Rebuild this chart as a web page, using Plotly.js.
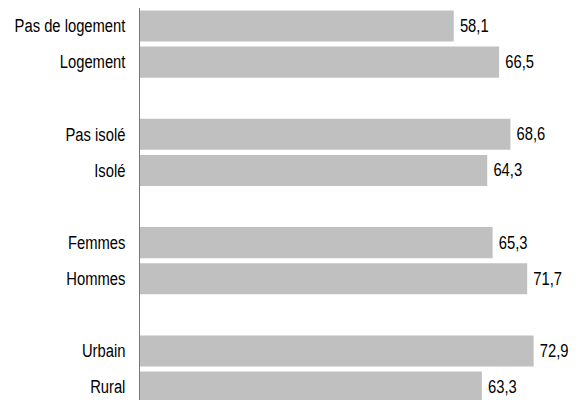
<!DOCTYPE html>
<html>
<head>
<meta charset="utf-8">
<script src="https://cdn.plot.ly/plotly-3.0.1.min.js"></script>
<style>html,body{margin:0;padding:0;background:#fff}#chart{width:578px;height:400px}</style>
</head>
<body>
<div id="chart"></div>
<script>
// Category slots (blank strings are the gaps between groups)
const categories = ["Pas de logement", "Logement", " ", "Pas isolé", "Isolé", "  ", "Femmes", "Hommes", "   ", "Urbain", "Rural"];
const values = [58.1, 66.5, null, 68.6, 64.3, null, 65.3, 71.7, null, 72.9, 63.3];

const FONT = 'Liberation Sans, Arial, sans-serif';
const NARROW = 0.82; // emulate a condensed (Arial Narrow-like) face

const trace = {
  type: 'bar',
  orientation: 'h',
  y: categories,
  x: values,
  marker: {color: '#c0c0c0'},
  text: values.map(v => v == null ? '' : v.toFixed(1).replace('.', ',')),
  textposition: 'outside',
  cliponaxis: false,
  textfont: {family: FONT, size: 18, color: '#000'},
  hoverinfo: 'none'
};

const layout = {
  width: 578, height: 400,
  margin: {l: 140, r: 6, t: 8, b: 0},
  paper_bgcolor: '#fff', plot_bgcolor: '#fff',
  showlegend: false,
  bargap: 0.14,
  font: {family: FONT, size: 18, color: '#000'},
  xaxis: {range: [0, 80], visible: false, showgrid: false, zeroline: false},
  yaxis: {
    type: 'category',
    categoryorder: 'array', categoryarray: categories,
    range: [10.36, -0.5],
    showline: true, linecolor: '#777', linewidth: 1,
    ticks: '', showgrid: false, zeroline: false,
    ticklabelstandoff: 10,
    tickfont: {family: FONT, size: 18, color: '#000'}
  }
};

function condense(gd) {
  gd.querySelectorAll('.ytick text, .bartext').forEach(t => {
    const w = t.getComputedTextLength();
    if (w > 0) {
      t.setAttribute('textLength', (w * NARROW).toFixed(2));
      t.setAttribute('lengthAdjust', 'spacingAndGlyphs');
    }
  });
}

Plotly.newPlot('chart', [trace], layout, {staticPlot: true, displayModeBar: false})
  .then(gd => condense(gd));
</script>
</body>
</html>
